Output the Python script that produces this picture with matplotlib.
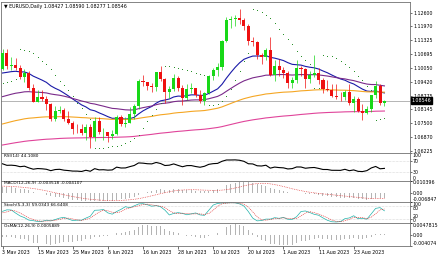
import numpy as np
import matplotlib
matplotlib.use("Agg")
import matplotlib.pyplot as plt

# ---------------- data (EURUSD daily) ----------------
# prehistory used only to warm up oscillators (not drawn)
pre_close_march = [1.0668, 1.0597, 1.0635, 1.0682, 1.0550, 1.0546, 1.0581, 1.0641, 1.0731, 1.0731,
                   1.0577, 1.0610, 1.0670, 1.0718, 1.0769, 1.0855, 1.0830, 1.0760, 1.0800, 1.0843,
                   1.0845, 1.0904, 1.0839]
pre_open = [1.0839, 1.0900, 1.0955, 1.0907, 1.0921, 1.0900, 1.0862, 1.0913, 1.0993, 1.1048, 1.0992,
            1.0925, 1.0972, 1.0955, 1.0967, 1.0991, 1.1048, 1.0973, 1.1043, 1.1028, 1.1019, 1.0977]
pre_high = [1.0917, 1.0973, 1.0970, 1.0942, 1.0925, 1.0915, 1.0925, 1.0998, 1.1068, 1.1075, 1.0996,
            1.0980, 1.0979, 1.0988, 1.1002, 1.1049, 1.1066, 1.1050, 1.1058, 1.1055, 1.1027, 1.1020]
pre_low = [1.0788, 1.0895, 1.0894, 1.0880, 1.0875, 1.0832, 1.0855, 1.0903, 1.0986, 1.0968, 1.0912,
           1.0917, 1.0915, 1.0932, 1.0935, 1.0965, 1.0965, 1.0962, 1.0988, 1.0962, 1.0966, 1.0942]
pre_close = [1.0900, 1.0955, 1.0907, 1.0921, 1.0900, 1.0862, 1.0913, 1.0993, 1.1048, 1.0992, 1.0925,
             1.0972, 1.0955, 1.0967, 1.0991, 1.1048, 1.0973, 1.1043, 1.1028, 1.1019, 1.0977, 1.1002]

# visible bars: 3 May 2023 .. 1 Sep 2023
open_ = [1.1002, 1.1072, 1.1013, 1.1020, 1.1005, 1.0962, 1.0983, 1.0914, 1.0850, 1.0873,
         1.0862, 1.0840, 1.0769, 1.0805, 1.0813, 1.0771, 1.0751, 1.0725, 1.0723, 1.0705,
         1.0735, 1.0689, 1.0762, 1.0708, 1.0712, 1.0693, 1.0699, 1.0781, 1.0749, 1.0751,
         1.0792, 1.0832, 1.0946, 1.0939, 1.0923, 1.0918, 1.0985, 1.0956, 1.0894, 1.0907,
         1.0961, 1.0913, 1.0866, 1.0910, 1.0912, 1.0880, 1.0855, 1.0888, 1.0966, 1.0998,
         1.1010, 1.1128, 1.1228, 1.1229, 1.1237, 1.1227, 1.1200, 1.1130, 1.1124, 1.1064,
         1.1056, 1.1086, 1.0975, 1.1016, 1.0995, 1.0984, 1.0937, 1.0948, 1.1004, 1.1002,
         1.0956, 1.0972, 1.0980, 1.0948, 1.0906, 1.0905, 1.0874, 1.0873, 1.0871, 1.0894,
         1.0844, 1.0861, 1.0805, 1.0796, 1.0815, 1.0879, 1.0923, 1.08427]
high = [1.1092, 1.1092, 1.1055, 1.1052, 1.1017, 1.1000, 1.0990, 1.0930, 1.0905, 1.0904,
        1.0875, 1.0845, 1.0829, 1.0830, 1.0822, 1.0805, 1.0760, 1.0747, 1.0747, 1.0747,
        1.0745, 1.0779, 1.0779, 1.0730, 1.0712, 1.0718, 1.0787, 1.0788, 1.0777, 1.0823,
        1.0840, 1.0955, 1.0971, 1.0941, 1.0937, 1.0986, 1.1012, 1.0960, 1.0920, 1.0976,
        1.0968, 1.0928, 1.0931, 1.0934, 1.0915, 1.0903, 1.0894, 1.0975, 1.1003, 1.1030,
        1.1134, 1.1239, 1.1245, 1.1248, 1.1276, 1.1235, 1.1206, 1.1148, 1.1130, 1.1076,
        1.1095, 1.1149, 1.1043, 1.1046, 1.1010, 1.0990, 1.0962, 1.1042, 1.1015, 1.1004,
        1.0992, 1.1065, 1.1005, 1.0958, 1.0950, 1.0931, 1.0930, 1.0894, 1.0904, 1.0929,
        1.0875, 1.0873, 1.0840, 1.0832, 1.0882, 1.0945, 1.0930, 1.08590]
low = [1.0998, 1.0999, 1.0995, 1.0996, 1.0956, 1.0940, 1.0903, 1.0848, 1.0850, 1.0852,
       1.0813, 1.0760, 1.0760, 1.0798, 1.0759, 1.0747, 1.0702, 1.0706, 1.0698, 1.0673,
       1.0635, 1.0670, 1.0702, 1.0675, 1.0665, 1.0677, 1.0694, 1.0737, 1.0732, 1.0750,
       1.0770, 1.0818, 1.0922, 1.0903, 1.0896, 1.0898, 1.0947, 1.0844, 1.0866, 1.0899,
       1.0897, 1.0834, 1.0859, 1.0888, 1.0872, 1.0845, 1.0833, 1.0884, 1.0952, 1.0970,
       1.0997, 1.1125, 1.1190, 1.1200, 1.1206, 1.1178, 1.1110, 1.1105, 1.1045, 1.1022,
       1.1040, 1.0966, 1.0944, 1.0968, 1.0960, 1.0914, 1.0912, 1.0936, 1.0970, 1.0914,
       1.0935, 1.0962, 1.0931, 1.0890, 1.0900, 1.0873, 1.0864, 1.0851, 1.0857, 1.0834,
       1.0802, 1.0802, 1.0766, 1.0793, 1.0804, 1.0865, 1.0834, 1.08277]
close = [1.1072, 1.1013, 1.1020, 1.1005, 1.0962, 1.0983, 1.0914, 1.0850, 1.0873, 1.0862,
         1.0840, 1.0769, 1.0805, 1.0813, 1.0771, 1.0751, 1.0725, 1.0723, 1.0705, 1.0735,
         1.0689, 1.0762, 1.0708, 1.0712, 1.0693, 1.0699, 1.0781, 1.0749, 1.0751, 1.0792,
         1.0832, 1.0946, 1.0939, 1.0923, 1.0918, 1.0985, 1.0956, 1.0894, 1.0907, 1.0961,
         1.0913, 1.0866, 1.0910, 1.0912, 1.0880, 1.0855, 1.0888, 1.0966, 1.0998, 1.1010,
         1.1128, 1.1228, 1.1229, 1.1237, 1.1227, 1.1200, 1.1130, 1.1124, 1.1064, 1.1056,
         1.1086, 1.0975, 1.1016, 1.0995, 1.0984, 1.0937, 1.0948, 1.1004, 1.1002, 1.0956,
         1.0972, 1.0980, 1.0948, 1.0906, 1.0905, 1.0874, 1.0873, 1.0871, 1.0894, 1.0844,
         1.0861, 1.0805, 1.0796, 1.0815, 1.0879, 1.0923, 1.0843, 1.08546]

# moving average starting values at the first bar
ma_periods = [20, 50, 100, 200]
ma_seeds = [1.0982, 1.0873, 1.0747, 1.0650]
ma_colors = ["#1A1AA8", "#7A2A8A", "#F5A623", "#E0449A"]

# parabolic SAR state at the first bar (dots below price)
psar_seed_sar = 1.0935
psar_seed_ep = 1.1092
psar_seed_af = 0.04

date_tick_index = [0, 8, 16, 24, 32, 40, 48, 56, 64, 72, 80]
date_tick_labels = ["3 May 2023", "15 May 2023", "25 May 2023", "6 Jun 2023", "16 Jun 2023",
                    "28 Jun 2023", "10 Jul 2023", "20 Jul 2023", "1 Aug 2023", "11 Aug 2023",
                    "23 Aug 2023"]
price_ticks = [1.12600, 1.11970, 1.11325, 1.10695, 1.10050, 1.09420, 1.08775,
               1.08145, 1.07500, 1.06870, 1.06225]
last_price = 1.08546
title_text = "\u25BC EURUSD,Daily 1.08427 1.08590 1.08277 1.08546"
rsi_label = "RSI(14) 44.1080"
macd_label = "MACD(12,26,9) -0.003518 -0.004107"
stoch_label = "Stoch(5,3,3) 59.0343 66.6408"
osma_label = "OsMA(12,26,9) 0.0005889"
macd_range = [-0.006847, 0.010396]
osma_range = [-0.004074, 0.0047815]

# ---------------- indicators ----------------
o = np.array(open_); h = np.array(high); l = np.array(low); c = np.array(close)
n = len(c)
npre = len(pre_close)
c_all = np.array(pre_close_march + pre_close + close)
h_all = np.array(pre_high + high)
l_all = np.array(pre_low + low)
c_hl = np.array(pre_close + close)
off_all = len(pre_close_march) + npre


def ema_seeded(vals, period, seed):
    k = 2.0 / (period + 1)
    out = np.empty(len(vals))
    out[0] = seed
    for i in range(1, len(vals)):
        out[i] = out[i - 1] + k * (vals[i] - out[i - 1])
    return out


def ema(vals, period):
    return ema_seeded(vals, period, vals[0])


def sma(vals, period):
    out = np.full(len(vals), np.nan)
    for i in range(period - 1, len(vals)):
        out[i] = np.mean(vals[i - period + 1:i + 1])
    return out


mas = [ema_seeded(c, p, s) for p, s in zip(ma_periods, ma_seeds)]

# RSI(14) Wilder
d = np.diff(c_all)
g = np.where(d > 0, d, 0.0); ls_ = np.where(d < 0, -d, 0.0)
ag = np.mean(g[:14]); al = np.mean(ls_[:14])
rsi_all = np.full(len(c_all), np.nan)
for i in range(14, len(d)):
    ag = (ag * 13 + g[i]) / 14
    al = (al * 13 + ls_[i]) / 14
    rsi_all[i + 1] = 100 - 100 / (1 + ag / al) if al > 0 else 100
rsi = rsi_all[off_all:]

# MACD
macd_all = ema(c_all, 12) - ema(c_all, 26)
sig_all = sma(macd_all, 9)
macd = macd_all[off_all:]
sig = sig_all[off_all:]
osma = macd - sig

# Stochastic(5,3,3)
kraw_num = np.full(len(c_hl), np.nan); kraw_den = np.full(len(c_hl), np.nan)
for i in range(4, len(c_hl)):
    ll = l_all[i - 4:i + 1].min(); hh = h_all[i - 4:i + 1].max()
    kraw_num[i] = c_hl[i] - ll; kraw_den[i] = hh - ll
k_line = np.full(len(c_hl), np.nan)
for i in range(6, len(c_hl)):
    k_line[i] = 100 * kraw_num[i - 2:i + 1].sum() / kraw_den[i - 2:i + 1].sum()
d_line = sma(k_line, 3)
k_line = k_line[npre:]; d_line = d_line[npre:]


# Parabolic SAR (0.02 / 0.2), starting from the state read at the first bar
def psar(hh, lo, sar0, ep0, af0, step=0.02, amax=0.2):
    m = len(hh)
    s = np.zeros(m)
    up = True; af = af0; ep = ep0; s[0] = sar0
    for i in range(1, m):
        v = s[i - 1] + af * (ep - s[i - 1])
        if up:
            v = min(v, lo[i - 1], lo[max(i - 2, 0)])
            if lo[i] < v:
                up = False; v = ep; ep = lo[i]; af = step
            elif hh[i] > ep:
                ep = hh[i]; af = min(af + step, amax)
        else:
            v = max(v, hh[i - 1], hh[max(i - 2, 0)])
            if hh[i] > v:
                up = True; v = ep; ep = hh[i]; af = step
            elif lo[i] < ep:
                ep = lo[i]; af = min(af + step, amax)
        s[i] = v
    return s


sar = psar(h, l, psar_seed_sar, psar_seed_ep, psar_seed_af)

# ---------------- drawing ----------------
W, H = 440, 254
fig = plt.figure(figsize=(W / 100, H / 100), dpi=100)
fig.patch.set_facecolor("white")

PLOT_L, PLOT_R = 1, 410
BAR_PX = 4.39
FIRST_PX = 2.5


def rect(y0, y1):
    return [PLOT_L / W, 1 - y1 / H, (PLOT_R - PLOT_L) / W, (y1 - y0) / H]


x_left = -(FIRST_PX - PLOT_L) / BAR_PX
x_right = x_left + (PLOT_R - PLOT_L) / BAR_PX

ax_main = fig.add_axes(rect(2, 153))
ax_rsi = fig.add_axes(rect(153, 180.5))
ax_macd = fig.add_axes(rect(180.5, 202))
ax_sto = fig.add_axes(rect(202, 223))
ax_osma = fig.add_axes(rect(223, 246))
axes = [ax_main, ax_rsi, ax_macd, ax_sto, ax_osma]

FS = 3.4
for ax in axes:
    ax.set_xlim(x_left, x_right)
    ax.set_facecolor("white")
    for sp in ax.spines.values():
        sp.set_color("#707070"); sp.set_linewidth(0.6)
    ax.tick_params(axis="x", which="both", bottom=False, labelbottom=False)
    ax.yaxis.tick_right()
    ax.tick_params(axis="y", direction="out", length=1.5, width=0.4, pad=1,
                   labelsize=FS, colors="black")

idx = np.arange(n)

# main chart
ax_main.set_ylim(1.126 - (153 - 12.7) / 2169, 1.126 + (12.7 - 2) / 2169)
ax_main.axhline(last_price, color="#A8A8A8", lw=0.6, zorder=1)
for line, col in zip(mas, ma_colors):
    ax_main.plot(idx, line, color=col, lw=0.8, zorder=2)
bull = c >= o
colors = np.where(bull, "#18D818", "#EE1010")
ax_main.vlines(idx, l, h, colors=colors, lw=0.5, zorder=3)
body_lo = np.minimum(o, c)
body_h = np.maximum(np.abs(c - o), 0.00012)
ax_main.bar(idx, body_h, bottom=body_lo, width=0.7, color=colors, linewidth=0, zorder=4)
ax_main.scatter(idx, sar, s=0.5, color="#1E8C1E", linewidths=0, zorder=5)
ax_main.set_yticks(price_ticks)
ax_main.set_yticklabels([f"{v:.5f}" for v in price_ticks])
ax_main.text(1.003, last_price, f"{last_price:.5f}", transform=ax_main.get_yaxis_transform(),
             ha="left", va="center", fontsize=FS, color="white", zorder=10,
             bbox=dict(boxstyle="square,pad=0.15", fc="black", ec="black"))
ax_main.text(0.008, 0.985, title_text, transform=ax_main.transAxes, ha="left", va="top",
             fontsize=FS, color="black")


def side_labels(ax, items):
    tr = ax.get_yaxis_transform()
    for val, txt, va in items:
        ax.text(1.006, val, txt, transform=tr, ha="left", va=va, fontsize=FS, color="black")
    ax.set_yticks([v for v, _, _ in items])
    ax.set_yticklabels([])


def panel_label(ax, txt):
    ax.text(0.008, 0.96, txt, transform=ax.transAxes, ha="left", va="top",
            fontsize=FS - 0.3, color="black")


# RSI
ax_rsi.set_ylim(0, 100)
for lev in (30, 70):
    ax_rsi.axhline(lev, color="#B8B8B8", lw=0.4, ls=(0, (1, 1.5)))
ax_rsi.plot(idx, rsi, color="black", lw=0.8)
side_labels(ax_rsi, [(100, "100", "top"), (70, "70", "center"), (30, "30", "center"), (0, "0", "bottom")])
panel_label(ax_rsi, rsi_label)

# MACD
ax_macd.set_ylim(macd_range[0], macd_range[1])
ax_macd.bar(idx, macd, width=0.22, color="#B4B4B4", linewidth=0)
ax_macd.plot(idx, sig, color="#E02020", lw=0.5, ls=(0, (1, 1.5)))
side_labels(ax_macd, [(macd_range[1], f"{macd_range[1]:.6f}", "top"), (0, "0.00", "center"),
                      (macd_range[0], f"{macd_range[0]:.6f}", "bottom")])
panel_label(ax_macd, macd_label)

# Stochastic
ax_sto.set_ylim(0, 100)
for lev in (20, 80):
    ax_sto.axhline(lev, color="#B8B8B8", lw=0.4, ls=(0, (1, 1.5)))
ax_sto.plot(idx, k_line, color="#20B2AA", lw=0.5)
ax_sto.plot(idx, d_line, color="#E02020", lw=0.4, ls=(0, (2, 1.5)))
side_labels(ax_sto, [(100, "100", "top"), (80, "80", "top"), (20, "20", "bottom"), (0, "0", "bottom")])
panel_label(ax_sto, stoch_label)

# OsMA
ax_osma.set_ylim(osma_range[0], osma_range[1])
ax_osma.bar(idx, osma, width=0.22, color="#B4B4B4", linewidth=0)
side_labels(ax_osma, [(osma_range[1], f"{osma_range[1]:.7f}", "top"), (0, "0.00", "center"),
                      (osma_range[0], f"{osma_range[0]:.6f}", "bottom")])
panel_label(ax_osma, osma_label)

# date axis
ax_osma.set_xticks(date_tick_index)
ax_osma.set_xticklabels(date_tick_labels, ha="left")
ax_osma.tick_params(axis="x", which="both", bottom=True, labelbottom=True, direction="out",
                    length=2, width=0.4, pad=0.8, labelsize=FS)

fig.savefig("out.png", dpi=100, facecolor="white")
